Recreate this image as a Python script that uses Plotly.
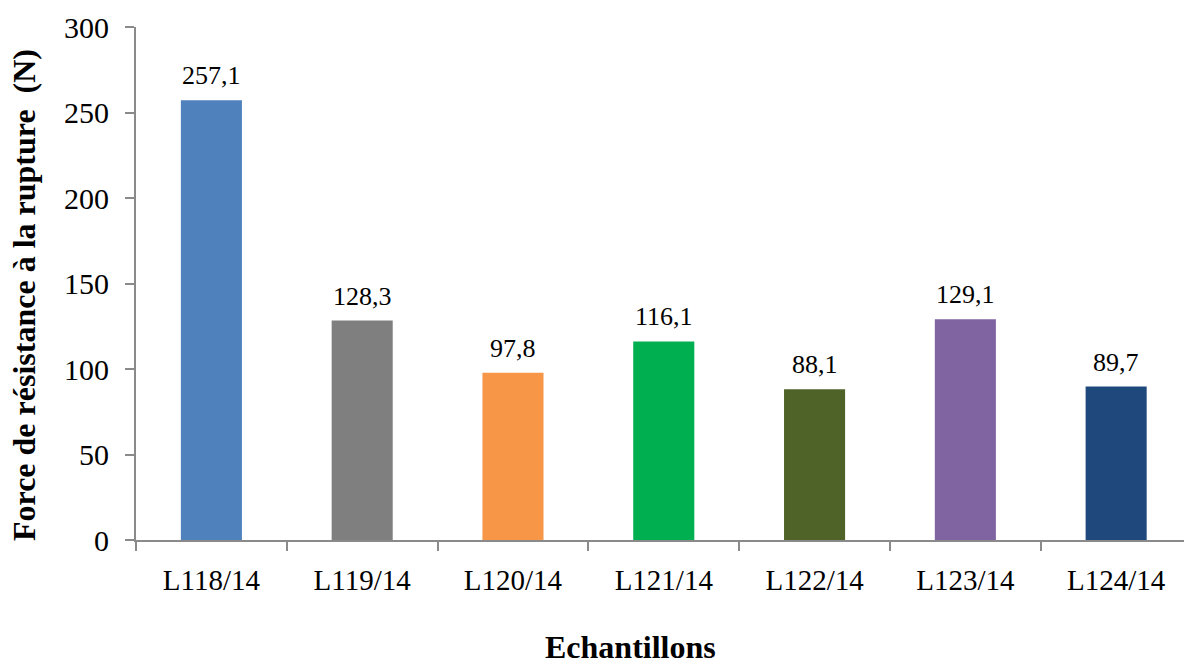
import plotly.graph_objects as go

# Breaking-strength measurements per sample
samples = ["L118/14", "L119/14", "L120/14", "L121/14", "L122/14", "L123/14", "L124/14"]
force_n = [257.1, 128.3, 97.8, 116.1, 88.1, 129.1, 89.7]
bar_colors = ["#4F81BD", "#7F7F7F", "#F79646", "#00B050", "#4F6228", "#8064A2", "#1F497D"]
y_ticks = [0, 50, 100, 150, 200, 250, 300]

SERIF = "Liberation Serif"
AXIS_GREY = "#8a8a8a"

# plot-area geometry in pixels, used to place the axis titles
W, H = 1184, 665
L, R, T, B = 136, 0, 27, 125
PW, PH = W - L - R, H - T - B


def px_to_paper(px, py):
    return (px - L) / PW, (H - B - py) / PH


fig = go.Figure(
    go.Bar(
        x=samples,
        y=force_n,
        marker=dict(color=bar_colors, line=dict(width=0)),
        width=0.405,
        hoverinfo="x+y",
    )
)

# value labels above each bar, with a comma as decimal mark
for s, v in zip(samples, force_n):
    fig.add_annotation(
        x=s, y=v, xref="x", yref="y",
        text=f"{v:.1f}".replace(".", ","),
        showarrow=False, yanchor="bottom", yshift=8,
        font=dict(family=SERIF, size=26, color="#000000"),
    )

# x-axis title
xt_x, xt_y = px_to_paper(630, 647)
fig.add_annotation(
    xref="paper", yref="paper", x=xt_x, y=xt_y,
    xanchor="center", yanchor="middle",
    text="<b>Echantillons</b>", showarrow=False,
    font=dict(family=SERIF, size=32, color="#000000"),
)

# y-axis title, rotated
yt_x, yt_y = px_to_paper(24, 295)
fig.add_annotation(
    xref="paper", yref="paper", x=yt_x, y=yt_y,
    xanchor="center", yanchor="middle", textangle=-90,
    text="<b>Force de résistance à la rupture  (N)</b>", showarrow=False,
    font=dict(family=SERIF, size=32, color="#000000"),
)

fig.update_layout(
    width=W, height=H,
    margin=dict(l=L, r=R, t=T, b=B),
    paper_bgcolor="white", plot_bgcolor="white",
    showlegend=False,
    xaxis=dict(
        type="category",
        range=[-0.5, 6.45],
        showline=True, linecolor=AXIS_GREY, linewidth=2,
        ticks="outside", tickson="boundaries", ticklen=9,
        tickcolor=AXIS_GREY, tickwidth=2,
        ticklabelstandoff=13,
        tickfont=dict(family=SERIF, size=29, color="#000000"),
        showgrid=False, zeroline=False,
    ),
    yaxis=dict(
        range=[0, 300],
        tickvals=y_ticks,
        showline=True, linecolor=AXIS_GREY, linewidth=2,
        ticks="outside", ticklen=9, tickcolor=AXIS_GREY, tickwidth=2,
        ticklabelstandoff=10,
        tickfont=dict(family=SERIF, size=30, color="#000000"),
        showgrid=False, zeroline=False,
    ),
)

fig.write_html("out.html")
